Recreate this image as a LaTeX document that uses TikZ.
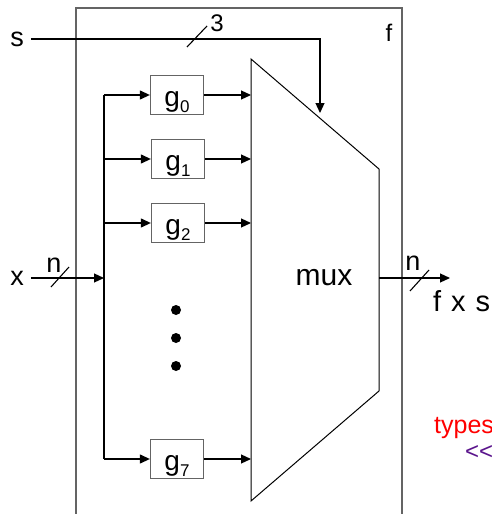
\documentclass[tikz,border=0pt]{standalone}
\usepackage{fontspec}
\setmainfont{Liberation Sans}
\usepackage{tikz}
\usetikzlibrary{arrows.meta, positioning}
\definecolor{FrameGray}{RGB}{100,100,100}
\definecolor{TypeRed}{RGB}{255,0,0}
\definecolor{TypePurple}{RGB}{90,20,140}
\newcommand{\gname}[1]{g\raisebox{-6pt}{\fontsize{17}{17}\selectfont #1}}
\newcommand{\widesp}{\hspace{10pt}}

\begin{document}
\begin{tikzpicture}[x=1pt, y=-1pt,
          fbox/.style={rectangle, draw=FrameGray, line width=1.3pt, minimum width=53pt,
                       minimum height=39pt, text height=24pt, text depth=1pt, inner sep=0pt,
                       font=\fontsize{28}{30}\selectfont},
          lbl/.style={inner sep=0pt, font=\fontsize{27}{30}\selectfont},
          small/.style={inner sep=0pt, font=\fontsize{24}{28}\selectfont},
          arr/.style={-{Triangle[length=10pt, width=9pt]}, line width=1.2pt},
          wire/.style={line width=1.2pt},
          slash/.style={line width=1.1pt},
          muxline/.style={line width=1pt, line join=miter}
        ]
        \useasboundingbox (0,0) rectangle (492,514);
        \clip (0,0) rectangle (492,514);

        % outer block f
        \draw[FrameGray, line width=1.3pt] (76,530) |- (402,8) -- (402,530);
        \node[small] (f) at (389,33) {f};

        % mux
        \coordinate (mtl) at (251,59);
        \coordinate (mtr) at (379,169);
        \coordinate (mbr) at (379,391);
        \coordinate (mbl) at (251,501);
        \draw[muxline] (mtl) -- (mtr) -- (mbr) -- (mbl) -- cycle;
        \node[font=\fontsize{30}{32}\selectfont] (mux) at (324,278) {mux};

        % select input
        \node[lbl] (s) at (17,39) {s};
        \coordinate (sel) at (320,113);
        \draw[arr, shorten <=7pt] (s) -| (sel);
        \draw[slash] (187,47) -- (207,26);
        \node[small] (three) at (217,23) {3};

        % data input
        \node[lbl] (x) at (17,278) {x};
        \coordinate (busin) at (104,278);
        \draw[arr, shorten <=7pt] (x) -- (busin);
        \draw[slash] (51,287) -- (69,267);
        \node[lbl] (nin) at (54,265) {n};

        % bus
        \coordinate (b0) at (104,95);
        \coordinate (b1) at (104,159);
        \coordinate (b2) at (104,223);
        \coordinate (b7) at (104,459);
        \draw[wire] (b0) -- (b7);

        % function blocks
        \node[fbox] (g0) at (177,95)  {\gname{0}};
        \node[fbox] (g1) at (178,159) {\gname{1}};
        \node[fbox] (g2) at (178,223) {\gname{2}};
        \node[fbox] (g7) at (177,459) {\gname{7}};
        \coordinate (m0) at (251,95);
        \coordinate (m1) at (251,159);
        \coordinate (m2) at (251,223);
        \coordinate (m7) at (251,459);
        \draw[arr] (b0) -- (g0);
        \draw[arr] (b1) -- (g1);
        \draw[arr] (b2) -- (g2);
        \draw[arr] (b7) -- (g7);
        \draw[arr] (g0) -- (m0);
        \draw[arr] (g1) -- (m1);
        \draw[arr] (g2) -- (m2);
        \draw[arr] (g7) -- (m7);

        % dots
        \fill (176,310) circle (5pt);
        \fill (176,338) circle (5pt);
        \fill (176,366) circle (5pt);

        % output
        \coordinate (mo) at (379,278);
        \coordinate (out) at (450,278);
        \draw[arr] (mo) -- (out);
        \draw[slash] (410,291) -- (429,270);
        \node[lbl] (nout) at (413,263) {n};
        \node[inner sep=0pt, anchor=base west, font=\fontsize{29}{32}\selectfont]
              (fxs) at (433,311) {f\widesp x\widesp s};

        % clipped text on the right
        \node[inner sep=0pt, anchor=base west, text=TypeRed,
              font=\fontsize{25}{27}\selectfont] (types) at (434,433) {types};
        \node[inner sep=0pt, anchor=west, text=TypePurple,
              font=\fontsize{24}{26}\selectfont] (ltlt) at (465,452) {<{}<};
      \end{tikzpicture}
\end{document}
